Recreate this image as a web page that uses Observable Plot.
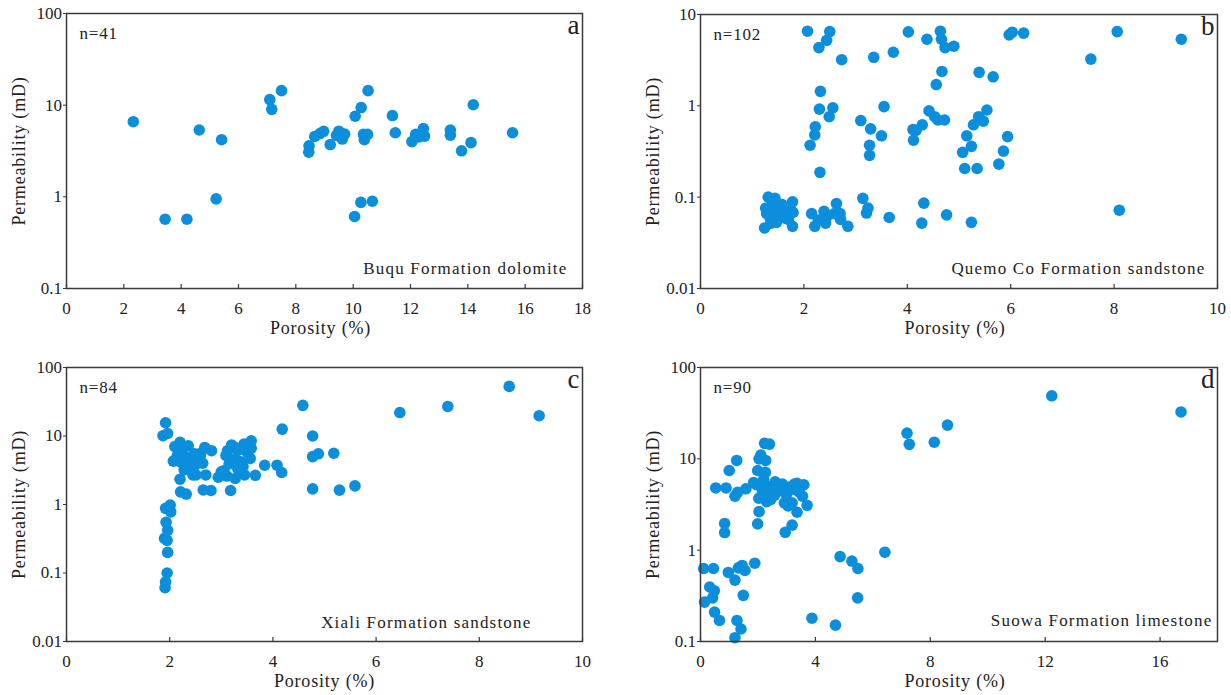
<!DOCTYPE html>
<html>
<head>
<meta charset="utf-8">
<script src="https://cdn.jsdelivr.net/npm/d3@7"></script>
<script src="https://cdn.jsdelivr.net/npm/@observablehq/plot@0.6"></script>
<style>
  html, body { margin: 0; padding: 0; background: #fff; }
  #wrap { position: relative; width: 1231px; height: 695px; overflow: hidden; }
  #wrap svg { position: absolute; overflow: visible; }
  #wrap svg, #wrap svg text { font-family: "Liberation Serif", "DejaVu Serif", serif !important; }
</style>
</head>
<body>
<div id="wrap"></div>
<script>
// ---------- Panel a: Buqu Formation dolomite ----------
const aPorosity = [2.33,3.44,4.2,4.63,5.22,5.41,7.09,7.16,7.5,8.46,8.45,8.66,8.84,8.97,9.2,9.42,9.5,9.62,9.7,10.07,10.28,10.05,10.27,10.67,10.36,10.39,10.5,10.52,11.37,11.47,12.05,12.18,12.3,12.45,12.49,13.39,13.39,13.78,14.11,14.19,15.56];
const aPerm = [6.6,0.57,0.57,5.36,0.95,4.2,11.5,9.0,14.4,3.6,3.07,4.56,4.9,5.18,3.72,4.68,5.2,4.27,4.84,7.57,9.42,0.61,0.87,0.895,4.8,4.2,4.8,14.4,7.7,5.0,4.0,4.8,4.5,5.55,4.6,5.35,4.7,3.18,3.9,10.1,5.0];

// ---------- Panel b: Quemo Co Formation sandstone ----------
const bPorosity = [
  2.07,2.29,2.44,2.5,2.73,3.35,3.73,4.02,4.38,4.64,4.66,4.73,4.9,5.97,6.03,6.25,7.55,8.06,9.3,
  4.67,4.56,5.39,5.66,2.32,2.3,2.56,2.49,2.22,2.21,2.12,2.31,3.1,3.29,3.27,3.27,3.5,3.55,4.11,4.17,4.12,4.29,4.42,4.53,4.59,4.72,5.15,5.07,5.24,5.28,5.38,5.47,5.54,5.11,5.35,5.77,5.86,5.94,
  1.31,1.44,1.26,1.24,1.35,1.47,1.58,1.47,1.64,1.71,1.78,1.79,1.78,1.7,1.51,1.58,1.36,1.28,1.4,1.55,1.62,1.33,1.5,1.75,
  2.15,2.21,2.39,2.42,2.35,2.63,2.59,2.7,2.71,2.85,3.14,3.24,3.21,3.65,4.32,4.28,4.76,5.24,8.1,2.45,2.28
];
const bPerm = [
  6.56,4.34,5.22,6.5,3.2,3.4,3.86,6.45,5.36,6.56,5.36,4.34,4.49,5.99,6.4,6.25,3.25,6.5,5.36,
  2.38,1.71,2.33,2.08,1.44,0.92,0.95,0.76,0.59,0.48,0.37,0.187,0.69,0.56,0.37,0.287,0.47,0.98,0.55,0.54,0.42,0.62,0.88,0.76,0.7,0.7,0.47,0.31,0.36,0.62,0.76,0.68,0.9,0.206,0.206,0.23,0.32,0.46,
  0.1,0.097,0.0757,0.046,0.059,0.066,0.083,0.053,0.059,0.068,0.089,0.068,0.048,0.057,0.076,0.068,0.052,0.066,0.088,0.081,0.062,0.07,0.058,0.072,
  0.066,0.048,0.07,0.052,0.057,0.085,0.066,0.066,0.057,0.048,0.097,0.076,0.067,0.06,0.086,0.052,0.064,0.053,0.072,0.062,0.056
];

// ---------- Panel c: Xiali Formation sandstone ----------
const cPorosity = [
  8.58,4.58,7.39,6.46,9.16,4.18,1.92,1.87,1.96,4.77,5.18,4.88,4.77,4.77,5.29,5.59,3.84,4.08,4.17,3.66,
  2.2,2.36,2.1,2.19,2.07,2.29,2.44,2.48,2.59,2.64,2.5,2.3,2.21,2.38,2.2,2.21,2.32,2.45,2.51,2.68,2.81,2.7,2.65,2.8,2.94,3.05,3.11,3.09,3.12,3.2,3.27,3.32,3.18,3.27,3.27,3.32,3.42,3.45,3.44,3.58,3.58,3.56,3.38,
  1.92,2.01,2.02,1.93,1.96,1.9,1.95,1.96,1.95,1.92,1.91,2.25,2.55,3.0,2.15,2.42,3.5,2.33,2.6,3.15,2.28
];
const cPerm = [
  53,28,27,22,19.8,12.6,15.6,10.1,10.9,10,5.6,5.5,5.0,1.69,1.62,1.87,3.74,3.75,2.93,2.67,
  8.1,7.2,7.0,5.6,4.3,4.5,5.0,5.5,5.0,4.0,3.8,3.7,4.2,4.2,2.34,1.53,1.42,2.7,2.7,6.8,6.1,2.7,1.63,1.6,2.5,3.1,2.6,5.2,6.1,7.4,6.8,6.2,1.6,4.7,2.4,3.3,3.6,2.7,7.6,8.5,6.6,4.7,4.2,
  0.88,0.98,0.78,0.55,0.42,0.32,0.3,0.2,0.1,0.074,0.061,6.2,4.6,3.0,5.2,3.3,5.8,4.9,5.6,3.9,3.2
];

// ---------- Panel d: Suowa Formation limestone ----------
const dPorosity = [
  12.23,16.73,8.6,7.19,7.27,8.14,6.42,4.86,5.27,5.48,5.47,3.88,4.7,
  0.11,0.45,0.14,0.32,0.48,0.42,0.49,0.66,0.53,0.89,0.84,0.84,1.0,1.26,1.2,1.29,1.58,0.97,1.2,1.32,1.45,1.55,1.49,1.27,1.41,1.2,
  1.89,1.99,2.04,1.85,1.99,2.1,2.04,2.27,2.23,2.4,2.26,2.1,2.03,2.3,2.16,2.34,2.5,2.64,2.78,2.85,2.95,2.92,3.05,2.99,3.19,3.27,3.36,3.3,3.36,3.55,3.71,3.19,2.95,2.44,2.58,
  2.2,2.6,3.1,3.45,2.15,2.9,3.25,2.7,1.95,2.35,3.4,2.45,3.0,3.6,2.55
];
const dPerm = [
  49,32.6,23.4,19.1,14.4,15.2,0.95,0.85,0.76,0.63,0.3,0.18,0.151,
  0.63,0.63,0.27,0.395,0.36,0.3,0.21,0.17,4.8,4.8,1.96,1.56,7.45,9.6,3.9,4.3,4.7,0.57,0.47,0.64,0.68,0.6,0.32,0.17,0.137,0.11,
  0.72,1.94,2.64,5.5,7.45,11,10,9.6,14.8,14.5,7.1,5.4,3.7,3.4,4.5,5.0,4.4,4.9,4.6,5.3,4.2,3.3,3.05,4.8,3.3,5.3,5.4,4.6,2.6,3.9,3.1,1.88,1.57,4.8,4.0,
  6.0,5.6,4.9,4.3,4.1,4.5,5.0,4.7,5.2,3.9,4.6,3.6,4.1,5.2,4.4
];

const xTitle = "Porosity (%)";
const yTitle = "Permeability (mD)";

const panels = [
  {letter: "a", n: "n=41", name: "Buqu Formation dolomite", px: aPorosity, py: aPerm,
   xDomain: [0, 18], xTicks: [0,2,4,6,8,10,12,14,16,18], yDomain: [0.1, 100], yTicks: [0.1,1,10,100],
   left: 0, top: 0, width: 615, height: 347, mt: 13, mb: 59, ml: 66, mr: 33, nameDx: -15, nameDy: -15, titleDx: -4},
  {letter: "b", n: "n=102", name: "Quemo Co Formation sandstone", px: bPorosity, py: bPerm,
   xDomain: [0, 10], xTicks: [0,2,4,6,8,10], yDomain: [0.01, 10], yTicks: [0.01,0.1,1,10],
   left: 615, top: 0, width: 616, height: 347, mt: 14, mb: 59, ml: 85, mr: 14, nameDx: -12, nameDy: -15, titleDx: -4},
  {letter: "c", n: "n=84", name: "Xiali Formation sandstone", px: cPorosity, py: cPerm,
   xDomain: [0, 10], xTicks: [0,2,4,6,8,10], yDomain: [0.01, 100], yTicks: [0.01,0.1,1,10,100],
   left: 0, top: 347, width: 615, height: 348, mt: 20, mb: 54, ml: 66, mr: 33, nameDx: -51, nameDy: -14, titleDx: 0},
  {letter: "d", n: "n=90", name: "Suowa Formation limestone", px: dPorosity, py: dPerm,
   xDomain: [0, 18], xTicks: [0,4,8,12,16], yDomain: [0.1, 100], yTicks: [0.1,1,10,100],
   left: 615, top: 347, width: 616, height: 348, mt: 20, mb: 54, ml: 85, mr: 14, nameDx: -5, nameDy: -16, titleDx: -4}
];

const dotColor = "#0b8fdd";
const ink = "#222";
const serif = "'Liberation Serif', 'DejaVu Serif', serif";
const wrap = document.getElementById("wrap");

for (const p of panels) {
  const data = p.px.map((x, i) => ({x, y: p.py[i]}));
  const plotH = p.height - p.mt - p.mb;
  const chart = Plot.plot({
    width: p.width,
    height: p.height,
    marginTop: p.mt,
    marginBottom: p.mb,
    marginLeft: p.ml,
    marginRight: p.mr,
    style: {fontFamily: serif, fontSize: "17px", color: ink, background: "transparent"},
    x: {domain: p.xDomain, label: null},
    y: {type: "log", domain: p.yDomain, label: null},
    marks: [
      Plot.dot(data, {x: "x", y: "y", r: 5.8, fill: dotColor, stroke: "none"}),
      Plot.frame({stroke: "#3a3a3a", strokeWidth: 1.5}),
      Plot.axisX(p.xTicks, {tickSize: 0, tickPadding: 13, fontSize: 17, fontFamily: serif, fill: ink}),
      Plot.tickX(p.xTicks, {x: d => d, insetTop: plotH - 4, stroke: "#3a3a3a", strokeWidth: 1.2}),
      Plot.axisY(p.yTicks, {tickSize: 3, tickPadding: 1.5, fontSize: 17, fontFamily: serif, fill: ink, stroke: "#3a3a3a", tickFormat: d => String(d)}),
      Plot.text([p.n], {frameAnchor: "top-left", dx: 13, dy: 25, textAnchor: "start", lineAnchor: "bottom", fontSize: 17, fontFamily: serif, fill: ink}),
      Plot.text([p.letter], {frameAnchor: "top-right", dx: -3, dy: 20, textAnchor: "end", lineAnchor: "bottom", fontSize: 27, fontFamily: serif, fill: ink}),
      Plot.text([p.name], {frameAnchor: "bottom-right", dx: p.nameDx, dy: p.nameDy, textAnchor: "end", lineAnchor: "bottom", fontSize: 17, fontFamily: serif, fill: ink}),
      Plot.text([xTitle], {frameAnchor: "bottom", dx: p.titleDx, dy: 40, textAnchor: "middle", lineAnchor: "middle", fontSize: 18, fontFamily: serif, fill: ink}),
      Plot.text([yTitle], {frameAnchor: "left", dx: -47, rotate: -90, textAnchor: "middle", lineAnchor: "middle", fontSize: 18, fontFamily: serif, fill: ink})
    ]
  });
  // letter spacing for the annotation texts
  d3.select(chart).selectAll("text").each(function() {
    const t = this.textContent;
    if (t === p.name) this.style.letterSpacing = "1.2px";
    else if (t === xTitle || t === yTitle) this.style.letterSpacing = "0.8px";
    else if (t === p.n) this.style.letterSpacing = "0.8px";
  });
  chart.style.left = p.left + "px";
  chart.style.top = p.top + "px";
  wrap.appendChild(chart);
}
</script>
</body>
</html>
